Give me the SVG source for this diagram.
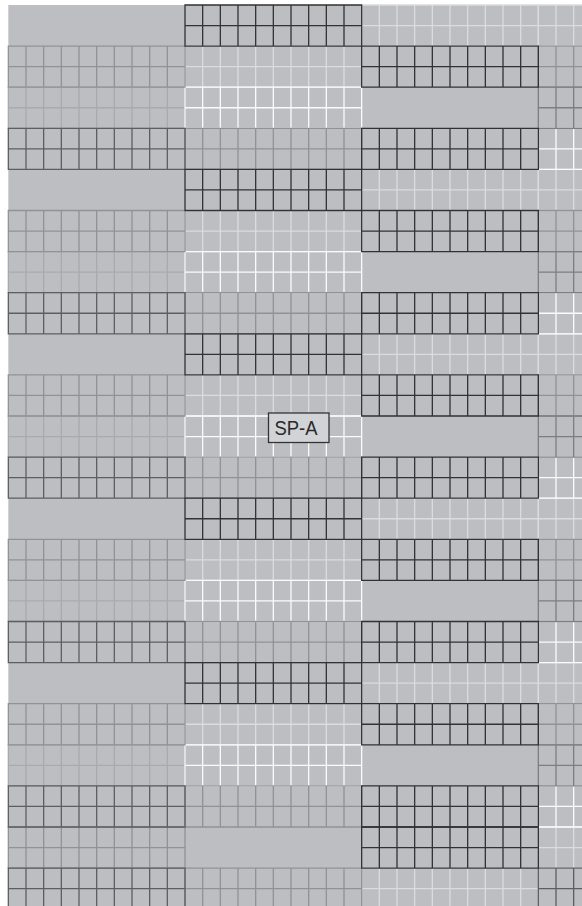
<svg xmlns="http://www.w3.org/2000/svg" xmlns:xlink="http://www.w3.org/1999/xlink" width="582" height="906" viewBox="0 0 582 906">
<style>
.g{fill:none;stroke-width:1.3}
.L{stroke:#a9aaad}
.LW{stroke:#dcdcde}
.W{stroke:#fbfbfb}
.M{stroke:#929294}
.MD{stroke:#7e7e80}
.D2{stroke:#5e5e60}
.K{stroke:#323232}
.lbl{font-family:"Liberation Sans",Arial,sans-serif;font-size:21px;fill:#2a2a2a}
</style>
<defs>
<path id="b" d="M0,0H176.67V41.1H0Z M17.67,0V41.1 M35.33,0V41.1 M53,0V41.1 M70.67,0V41.1 M88.33,0V41.1 M106,0V41.1 M123.67,0V41.1 M141.33,0V41.1 M159,0V41.1 M0,20.55H176.67"/>
</defs>
<rect width="582" height="906" fill="#ffffff"/>
<rect x="8.33" y="5" width="574" height="901" fill="#bdbec2"/>
<g id="tone-L" class="g L">
<use href="#b" x="8.33" y="87.2"/><use href="#b" x="8.33" y="251.6"/><use href="#b" x="8.33" y="416"/><use href="#b" x="8.33" y="580.4"/><use href="#b" x="8.33" y="744.8"/>
</g>
<g id="tone-LW" class="g LW">
<use href="#b" x="185" y="46.1"/><use href="#b" x="185" y="210.5"/><use href="#b" x="185" y="374.9"/><use href="#b" x="185" y="539.3"/><use href="#b" x="185" y="703.7"/>
<use href="#b" x="361.67" y="5"/><use href="#b" x="361.67" y="169.4"/><use href="#b" x="361.67" y="333.8"/><use href="#b" x="361.67" y="498.2"/><use href="#b" x="361.67" y="662.6"/><use href="#b" x="361.67" y="868.1"/>
<use href="#b" x="538.33" y="5"/><use href="#b" x="538.33" y="169.4"/><use href="#b" x="538.33" y="333.8"/><use href="#b" x="538.33" y="498.2"/><use href="#b" x="538.33" y="662.6"/><use href="#b" x="538.33" y="827"/>
</g>
<g id="tone-W" class="g W">
<use href="#b" x="185" y="87.2"/><use href="#b" x="185" y="251.6"/><use href="#b" x="185" y="416"/><use href="#b" x="185" y="580.4"/><use href="#b" x="185" y="744.8"/>
<use href="#b" x="538.33" y="128.3"/><use href="#b" x="538.33" y="292.7"/><use href="#b" x="538.33" y="457.1"/><use href="#b" x="538.33" y="621.5"/><use href="#b" x="538.33" y="785.9"/>
</g>
<g id="tone-M" class="g M">
<use href="#b" x="8.33" y="46.1"/><use href="#b" x="8.33" y="210.5"/><use href="#b" x="8.33" y="374.9"/><use href="#b" x="8.33" y="539.3"/><use href="#b" x="8.33" y="703.7"/><use href="#b" x="8.33" y="827"/>
<use href="#b" x="185" y="128.3"/><use href="#b" x="185" y="292.7"/><use href="#b" x="185" y="457.1"/><use href="#b" x="185" y="621.5"/><use href="#b" x="185" y="785.9"/><use href="#b" x="185" y="868.1"/>
<use href="#b" x="538.33" y="46.1"/><use href="#b" x="538.33" y="210.5"/><use href="#b" x="538.33" y="374.9"/><use href="#b" x="538.33" y="539.3"/><use href="#b" x="538.33" y="703.7"/>
</g>
<g id="tone-MD" class="g MD">
<use href="#b" x="538.33" y="87.2"/><use href="#b" x="538.33" y="251.6"/><use href="#b" x="538.33" y="416"/><use href="#b" x="538.33" y="580.4"/><use href="#b" x="538.33" y="744.8"/>
</g>
<g id="tone-D2" class="g D2">
<use href="#b" x="8.33" y="128.3"/><use href="#b" x="8.33" y="292.7"/><use href="#b" x="8.33" y="457.1"/><use href="#b" x="8.33" y="621.5"/><use href="#b" x="8.33" y="785.9"/><use href="#b" x="8.33" y="868.1"/>
<use href="#b" x="538.33" y="868.1"/>
</g>
<g id="tone-K" class="g K">
<use href="#b" x="185" y="5"/><use href="#b" x="185" y="169.4"/><use href="#b" x="185" y="333.8"/><use href="#b" x="185" y="498.2"/><use href="#b" x="185" y="662.6"/>
<use href="#b" x="361.67" y="46.1"/><use href="#b" x="361.67" y="128.3"/><use href="#b" x="361.67" y="210.5"/><use href="#b" x="361.67" y="292.7"/><use href="#b" x="361.67" y="374.9"/><use href="#b" x="361.67" y="457.1"/><use href="#b" x="361.67" y="539.3"/><use href="#b" x="361.67" y="621.5"/><use href="#b" x="361.67" y="703.7"/><use href="#b" x="361.67" y="785.9"/><use href="#b" x="361.67" y="827"/>
</g>
<g id="sp-a">
<rect x="268.5" y="413" width="60.5" height="29.5" fill="#d2d3d6" stroke="#333333" stroke-width="1.3"/>
<text class="lbl" x="274.5" y="435" textLength="43" lengthAdjust="spacingAndGlyphs">SP-A</text>
</g>
</svg>
